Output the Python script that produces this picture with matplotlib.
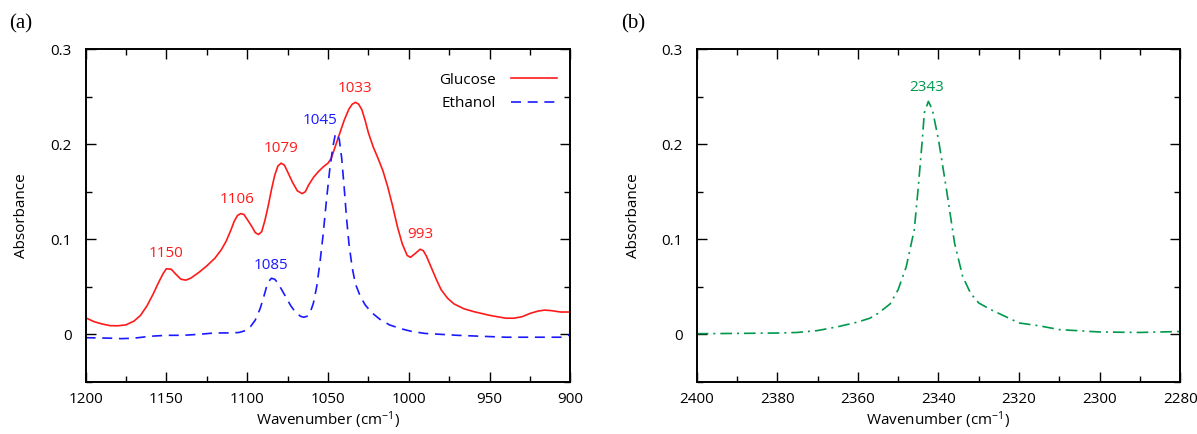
import numpy as np
import matplotlib
matplotlib.use('Agg')
import matplotlib.pyplot as plt
from matplotlib.ticker import MultipleLocator

plt.rcParams['font.family'] = ['Open Sans', 'DejaVu Sans']
plt.rcParams['mathtext.fontset'] = 'custom'
plt.rcParams['mathtext.rm'] = 'Open Sans'
plt.rcParams['mathtext.it'] = 'Open Sans'

# Panel (a) spectra
glucose_x = [1200, 1195, 1190, 1185, 1180, 1175, 1170, 1166, 1162, 1158, 1155, 1152, 1150,
             1147, 1144, 1141, 1138, 1135, 1130, 1125, 1120, 1116, 1113, 1110, 1108, 1106,
             1104, 1102, 1100, 1097, 1095, 1093, 1091, 1089, 1087, 1085, 1083, 1081, 1079,
             1077, 1075, 1072, 1069, 1066, 1064, 1062, 1059, 1056, 1053, 1050, 1048, 1046,
             1043, 1040, 1037, 1035, 1033, 1031, 1029, 1027, 1025, 1022, 1019, 1016, 1013,
             1010, 1007, 1004, 1001, 999, 996, 993, 991, 989, 986, 983, 980, 976, 972, 966,
             960, 950, 940, 935, 930, 925, 920, 916, 912, 906, 900]
glucose_y = [0.0175, 0.0135, 0.011, 0.0092, 0.0090, 0.010, 0.014, 0.020, 0.030, 0.043, 0.054, 0.064, 0.069,
             0.0685, 0.063, 0.058, 0.057, 0.059, 0.065, 0.072, 0.080, 0.089, 0.098, 0.110, 0.119, 0.125,
             0.127, 0.126, 0.121, 0.113, 0.107, 0.105, 0.108, 0.120, 0.135, 0.152, 0.167, 0.177, 0.180,
             0.178, 0.171, 0.160, 0.151, 0.148, 0.150, 0.157, 0.165, 0.171, 0.176, 0.180, 0.185, 0.195,
             0.210, 0.225, 0.237, 0.242, 0.244, 0.242, 0.236, 0.225, 0.212, 0.197, 0.185, 0.172, 0.155,
             0.135, 0.113, 0.095, 0.083, 0.081, 0.085, 0.0895, 0.088, 0.082, 0.070, 0.058, 0.047, 0.038, 0.032, 0.027,
             0.024, 0.020, 0.017, 0.017, 0.0185, 0.022, 0.0245, 0.0255, 0.025, 0.0235, 0.0235]

ethanol_x = [1200, 1185, 1178, 1170, 1160, 1150, 1140, 1130, 1120, 1110, 1105, 1101, 1098,
             1095, 1092, 1090, 1088, 1086, 1085, 1083, 1081, 1079, 1076, 1073, 1070, 1067,
             1065, 1063, 1061, 1059, 1057, 1055, 1053, 1051, 1049, 1047, 1045.5, 1044.5, 1043,
             1041.5, 1040, 1038.5, 1037, 1035, 1033, 1030, 1027, 1023, 1018, 1012, 1005, 998,
             990, 980, 970, 955, 940, 925, 913, 906, 902, 900]
ethanol_y = [-0.0035, -0.004, -0.0045, -0.004, -0.002, -0.001, -0.001, 0.000, 0.0015, 0.0015, 0.002, 0.004, 0.008,
             0.015, 0.027, 0.038, 0.050, 0.057, 0.059, 0.058, 0.054, 0.048, 0.039, 0.030, 0.023, 0.019,
             0.018, 0.019, 0.023, 0.033, 0.050, 0.075, 0.105, 0.140, 0.172, 0.197, 0.210, 0.2116, 0.205,
             0.185, 0.155, 0.122, 0.095, 0.070, 0.053, 0.040, 0.031, 0.023, 0.016, 0.010, 0.006, 0.003,
             0.001, 0.000, -0.001, -0.002, -0.003, -0.003, -0.003, -0.003, -0.001, -0.001]

glucose_peaks = [1150, 1106, 1079, 1033, 993]
glucose_peak_y = [0.0695, 0.127, 0.180, 0.244, 0.0895]
ethanol_peaks = [1085, 1045]
ethanol_peak_y = [0.059, 0.2116]
ethanol_label_shift = [0, 10]

# Panel (b) CO2 band
co2_x = [2400, 2390, 2380, 2375, 2370, 2365, 2360, 2357, 2355, 2352, 2350, 2348,
         2346, 2345, 2344, 2343.5, 2342.5, 2341.5, 2340, 2338, 2336, 2334, 2332,
         2330, 2327, 2324, 2320, 2315, 2310, 2300, 2290, 2280]
co2_y = [0.0007, 0.001, 0.0014, 0.002, 0.004, 0.008, 0.013, 0.017, 0.022, 0.032, 0.047, 0.071,
         0.110, 0.155, 0.205, 0.233, 0.245, 0.236, 0.205, 0.152, 0.096, 0.061, 0.043,
         0.033, 0.026, 0.020, 0.012, 0.009, 0.005, 0.0025, 0.002, 0.003]
co2_peak = [2343]
co2_peak_y = [0.245]

red = '#ff1a1a'
blue = '#1a1aff'
green = '#00994c'

fig = plt.figure(figsize=(11.97, 4.34), dpi=100)
ax1 = fig.add_axes([0.0715, 0.12, 0.405, 0.767])
ax2 = fig.add_axes([0.582, 0.12, 0.404, 0.767])


def style_axis(ax, xlim, major, minor):
    ax.set_xlim(*xlim)
    ax.set_ylim(-0.05, 0.3)
    ax.xaxis.set_major_locator(MultipleLocator(major))
    ax.xaxis.set_minor_locator(MultipleLocator(minor))
    ax.yaxis.set_major_locator(MultipleLocator(0.1))
    ax.yaxis.set_minor_locator(MultipleLocator(0.05))
    ax.yaxis.set_major_formatter(plt.FuncFormatter(lambda v, p: '0' if abs(v) < 1e-9 else '%.1f' % v))
    ax.tick_params(which='both', direction='in', top=True, right=True, labelsize=11, width=1)
    ax.tick_params(which='major', length=7)
    ax.tick_params(axis='x', which='major', pad=7)
    ax.tick_params(axis='y', which='major', pad=10)
    ax.tick_params(which='minor', length=4)
    for s in ax.spines.values():
        s.set_linewidth(1.4)
    ax.set_xlabel('Wavenumber (cm$^{-1}$)', fontsize=11, labelpad=2)
    ax.set_ylabel('Absorbance', fontsize=11, labelpad=15)


ax1.plot(glucose_x, glucose_y, color=red, lw=1.2, label='Glucose')
ax1.plot(ethanol_x, ethanol_y, color=blue, lw=1.2, dashes=(6, 4), label='Ethanol')
for px, py in zip(glucose_peaks, glucose_peak_y):
    ax1.text(px, py + 0.015, str(px), color=red, ha='center', va='center', fontsize=11)
for px, py, dx in zip(ethanol_peaks, ethanol_peak_y, ethanol_label_shift):
    ax1.text(px + dx, py + 0.013, str(px), color=blue, ha='center', va='center', fontsize=11)
style_axis(ax1, (1200, 900), 50, 25)
ax1.legend(loc='upper right', frameon=False, markerfirst=False, fontsize=11,
           handlelength=3.0, handletextpad=1.0, labelspacing=0.55,
           bbox_to_anchor=(1.0, 0.97))

ax2.plot(co2_x, co2_y, color=green, lw=1.2, dashes=(7, 3, 1.2, 3))
for px, py in zip(co2_peak, co2_peak_y):
    ax2.text(px, py + 0.015, str(px), color=green, ha='center', va='center', fontsize=11)
style_axis(ax2, (2400, 2280), 20, 10)

fig.text(0.008, 0.935, '(a)', family='Liberation Serif', fontsize=15)
fig.text(0.519, 0.935, '(b)', family='Liberation Serif', fontsize=15)

fig.savefig('out.png', dpi=100)
